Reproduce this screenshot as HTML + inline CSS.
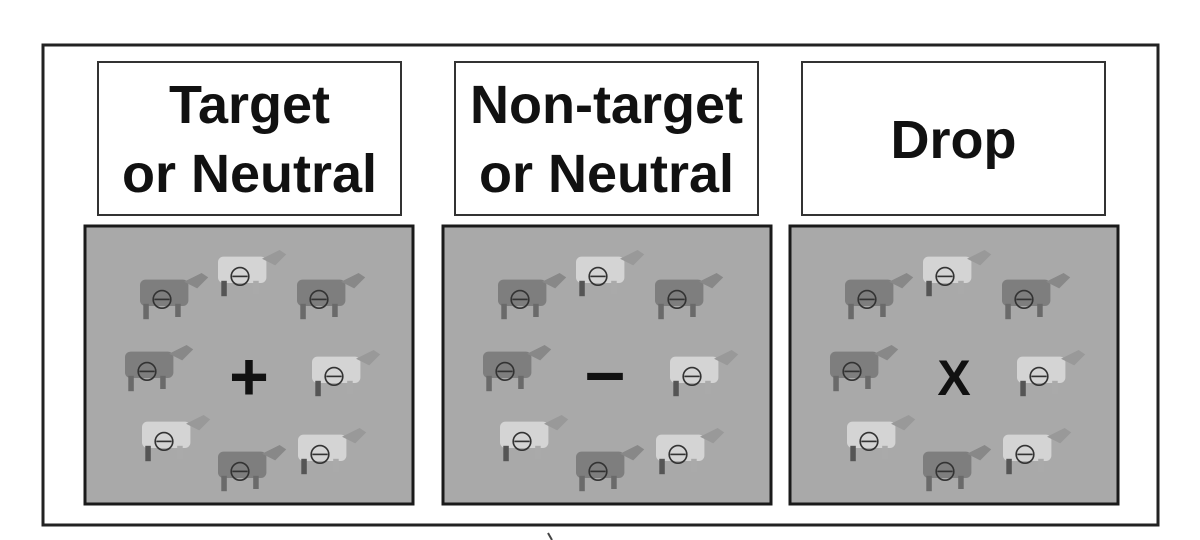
<!DOCTYPE html>
<html><head><meta charset="utf-8"><style>
html,body{margin:0;padding:0;background:#fff;}
svg{display:block;}
text{font-family:"Liberation Sans",Arial,sans-serif;font-weight:bold;fill:#111;}
</style></head><body>
<svg id="fig" width="1200" height="540" viewBox="0 0 1200 540">
<rect x="0" y="0" width="1200" height="540" fill="#fff"/>
<rect x="43" y="45" width="1115" height="480" fill="none" stroke="#222" stroke-width="3"/>
<line x1="548" y1="533" x2="552" y2="540" stroke="#444" stroke-width="2"/>
<g id="panels"></g>
</svg>
<script>
const labels=[["Target","or Neutral"],["Non-target","or Neutral"],["Drop"]];
const symbols=["+","\u2013","X"];
const labelBoxX=[98,455,802];
const panelX=[85,443,790];
const cowDark=[true,false,true,true,false,false,true,false];
const cowPos=[[55,47],[133,24],[212,47],[40,119],[227,124],[57,189],[133,219],[213,202]];
const ns="http://www.w3.org/2000/svg";
const g=document.getElementById('panels');
function mk(tag,attrs,parent){const e=document.createElementNS(ns,tag);for(const k in attrs)e.setAttribute(k,attrs[k]);(parent||g).appendChild(e);return e;}
labels.forEach((lab,i)=>{
  const bx=labelBoxX[i];
  const box=mk('rect',{x:bx,y:62,width:303,height:153,fill:'#fff',stroke:'#333','stroke-width':2});
  
  
  const ys=lab.length===2?[123,192]:[158];
  lab.forEach((t,j)=>{
    const tx=mk('text',{x:bx+151.5,y:ys[j],'text-anchor':'middle','font-size':54});
    tx.textContent=t;
    
    
  });
  const px=panelX[i];
  const pan=mk('rect',{x:px,y:226,width:328,height:278,fill:'#a9a9a9',stroke:'#1a1a1a','stroke-width':3});
  
  
  cowPos.forEach((p,k)=>{
    const cg=mk('g',{transform:'translate('+(px+p[0])+','+(226+p[1])+') scale(1.1)'});
    
    
    const dark=cowDark[k];
    const body=dark?'#7e7e7e':'#d4d4d4';
    mk('rect',{x:0,y:6,width:44,height:24,rx:5,fill:body},cg);
    mk('rect',{x:3,y:28,width:5,height:14,fill:dark?'#6a6a6a':'#555'},cg);
    mk('rect',{x:32,y:28,width:5,height:12,fill:dark?'#6a6a6a':'#aaa'},cg);
    mk('path',{d:'M40 8 L56 0 L62 4 L52 14 Z',fill:dark?'#888':'#999'},cg);
    mk('circle',{cx:20,cy:24,r:8,fill:'none',stroke:'#333','stroke-width':1.5},cg);
    mk('line',{x1:13,y1:24,x2:27,y2:24,stroke:'#333','stroke-width':1.5},cg);
  });
  const s=mk('text',{x:px+(i===1?162:164),y:i===2?395:(i===1?396:400),'text-anchor':'middle','font-size':i===2?50:(i===1?72:68)});
  s.textContent=symbols[i];
  
  
});
</script>
</body></html>
